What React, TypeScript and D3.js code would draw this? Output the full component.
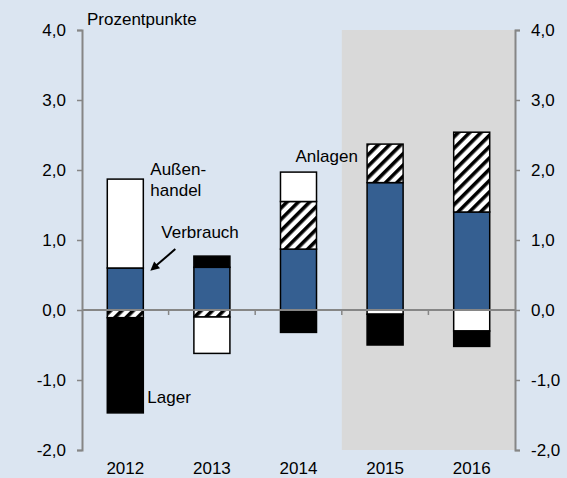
import React, { useEffect, useRef } from 'react';
import * as d3 from 'd3';

const years = ['2012', '2013', '2014', '2015', '2016'];
const seriesNames = ['Verbrauch', 'Anlagen', 'Außenhandel', 'Lager'];
const verbrauch = [0.6, 0.61, 0.87, 1.82, 1.4];
const anlagen = [-0.11, -0.1, 0.68, 0.55, 1.14];
const aussenhandel = [1.27, -0.52, 0.42, -0.06, -0.3];
const lager = [-1.36, 0.16, -0.32, -0.44, -0.22];
const yTicks = [-2, -1, 0, 1, 2, 3, 4];
const forecastYears = ['2015', '2016'];

const W = 567;
const H = 478;

const App = () => {
  const svgRef = useRef<SVGSVGElement>(null);

  useEffect(() => {
    const svg = d3.select(svgRef.current);
    svg.selectAll('*').remove();

    const margin = { top: 30, right: 52, bottom: 28, left: 82 };
    const font = 'Liberation Sans, Arial, sans-serif';
    const fs = 17;
    const axisColor = '#868686';

    const x = d3.scaleBand<string>()
      .domain(years)
      .range([margin.left, W - margin.right])
      .paddingInner(0.584)
      .paddingOuter(0.292);
    const y = d3.scaleLinear().domain([-2, 4]).range([H - margin.bottom, margin.top]);

    const rows = years.map((yr, i) => ({
      year: yr,
      Verbrauch: verbrauch[i],
      Anlagen: anlagen[i],
      Außenhandel: aussenhandel[i],
      Lager: lager[i],
    }));

    const stack = d3.stack<any>().keys(seriesNames).offset(d3.stackOffsetDiverging);
    const layers = stack(rows);

    const defs = svg.append('defs');
    const pat = defs.append('pattern')
      .attr('id', 'hatch')
      .attr('patternUnits', 'userSpaceOnUse')
      .attr('width', 8)
      .attr('height', 8)
      .attr('patternTransform', 'rotate(45)');
    pat.append('rect').attr('width', 8).attr('height', 8).attr('fill', '#fff');
    pat.append('rect').attr('width', 3.6).attr('height', 8).attr('fill', '#000');

    const fills: Record<string, string> = {
      Verbrauch: '#355f91',
      Anlagen: 'url(#hatch)',
      Außenhandel: '#ffffff',
      Lager: '#000000',
    };

    svg.append('rect').attr('width', W).attr('height', H).attr('fill', '#dbe5f1');

    // forecast shading
    const step = x.step();
    const shadeX0 = (x(forecastYears[0]) as number) - (step - x.bandwidth()) / 2;
    svg.append('rect')
      .attr('x', shadeX0)
      .attr('y', y(4))
      .attr('width', W - margin.right - shadeX0)
      .attr('height', y(-2) - y(4))
      .attr('fill', '#d9d9d9');

    // bars
    layers.forEach(layer => {
      svg.append('g')
        .selectAll('rect')
        .data(layer.filter(d => Math.abs(d[1] - d[0]) > 1e-9))
        .enter()
        .append('rect')
        .attr('x', d => x(d.data.year) as number)
        .attr('width', x.bandwidth())
        .attr('y', d => y(Math.max(d[0], d[1])))
        .attr('height', d => Math.abs(y(d[0]) - y(d[1])))
        .attr('fill', fills[layer.key])
        .attr('stroke', '#000')
        .attr('stroke-width', 1.5);
    });

    // zero line with category ticks
    svg.append('line')
      .attr('x1', margin.left).attr('x2', W - margin.right)
      .attr('y1', y(0)).attr('y2', y(0))
      .attr('stroke', axisColor).attr('stroke-width', 2);
    years.slice(1).forEach(yr => {
      const bx = (x(yr) as number) - (step - x.bandwidth()) / 2;
      svg.append('line')
        .attr('x1', bx).attr('x2', bx)
        .attr('y1', y(0)).attr('y2', y(0) + 5)
        .attr('stroke', axisColor).attr('stroke-width', 1.5);
    });

    // left and right axes
    const fmt = (v: number) => v.toFixed(1).replace('.', ',');
    const axL = svg.append('g').attr('transform', `translate(${margin.left},0)`)
      .call(d3.axisLeft(y).tickValues(yTicks).tickSize(5).tickPadding(11).tickFormat(d => fmt(+d)));
    const axR = svg.append('g').attr('transform', `translate(${W - margin.right},0)`)
      .call(d3.axisRight(y).tickValues(yTicks).tickSize(5).tickPadding(11).tickFormat(d => fmt(+d)));
    [axL, axR].forEach(ax => {
      ax.select('.domain').attr('stroke', axisColor).attr('stroke-width', 2);
      ax.selectAll('.tick line').attr('stroke', axisColor).attr('stroke-width', 1.5);
      ax.selectAll('.tick text')
        .attr('font-family', font)
        .attr('font-size', fs)
        .attr('fill', '#000');
    });

    // year labels
    svg.append('g')
      .selectAll('text')
      .data(years)
      .enter()
      .append('text')
      .attr('x', d => (x(d) as number) + x.bandwidth() / 2)
      .attr('y', H - 4)
      .attr('text-anchor', 'middle')
      .attr('font-family', font)
      .attr('font-size', fs)
      .text(d => d);

    const label = (tx: number, ty: number, t: string) =>
      svg.append('text')
        .attr('x', tx).attr('y', ty)
        .attr('font-family', font)
        .attr('font-size', fs)
        .attr('fill', '#000')
        .text(t);

    label(margin.left + 5, 25, 'Prozentpunkte');

    const b12 = (x('2012') as number) + x.bandwidth();
    label(b12 + 7, 175, 'Außen-');
    label(b12 + 7, 196, 'handel');
    label(b12 + 18, 238, 'Verbrauch');
    label(b12 + 4, 403, 'Lager');
    label((x('2014') as number) + 15, 162, 'Anlagen');

    // arrow to Verbrauch
    const ax0 = b12 + 32, ay0 = y(0.87);
    const ax1 = b12 + 7, ay1 = y(0.56);
    svg.append('line')
      .attr('x1', ax0).attr('y1', ay0)
      .attr('x2', ax1 + 5).attr('y2', ay1 - 4.5)
      .attr('stroke', '#000').attr('stroke-width', 2);
    const ang = Math.atan2(ay1 - ay0, ax1 - ax0);
    const hl = 9, hw = 4.5;
    const p1 = [ax1 - hl * Math.cos(ang) + hw * Math.sin(ang), ay1 - hl * Math.sin(ang) - hw * Math.cos(ang)];
    const p2 = [ax1 - hl * Math.cos(ang) - hw * Math.sin(ang), ay1 - hl * Math.sin(ang) + hw * Math.cos(ang)];
    svg.append('path')
      .attr('d', `M${ax1},${ay1}L${p1[0]},${p1[1]}L${p2[0]},${p2[1]}Z`)
      .attr('fill', '#000');
  }, []);

  return (
    <div style={{ width: W, height: H }}>
      <style>{'body{margin:0}'}</style>
      <svg ref={svgRef} width={W} height={H} style={{ display: 'block' }} />
    </div>
  );
};

export default App;
